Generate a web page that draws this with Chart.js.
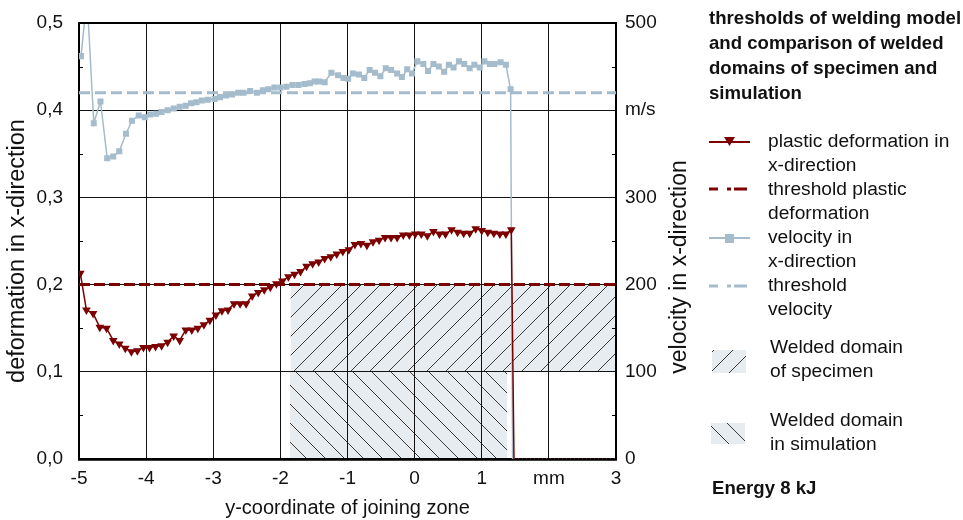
<!DOCTYPE html>
<html>
<head>
<meta charset="utf-8">
<script src="https://cdn.jsdelivr.net/npm/chart.js@4.4.1/dist/chart.umd.min.js"></script>
<style>
  html, body { margin: 0; padding: 0; background: #fff; }
  #wrap { width: 963px; height: 520px; }
</style>
</head>
<body>
<div id="wrap"><canvas id="weldChart" width="963" height="520"></canvas></div>
<script>
// plastic deformation in x-direction (left axis)
const defX = [-4.98, -4.89, -4.79, -4.69, -4.59, -4.49, -4.40, -4.31, -4.22, -4.13, -4.04, -3.95, -3.86, -3.77,
  -3.68, -3.59, -3.50, -3.41, -3.32, -3.23, -3.14, -3.05, -2.96, -2.87, -2.78, -2.69, -2.60, -2.51, -2.42, -2.33,
  -2.24, -2.15, -2.06, -1.97, -1.88, -1.79, -1.70, -1.61, -1.52, -1.43, -1.34, -1.25, -1.16, -1.07, -0.98, -0.89,
  -0.80, -0.71, -0.62, -0.53, -0.44, -0.35, -0.26, -0.17, -0.08, 0.01, 0.10, 0.19, 0.28, 0.37, 0.46, 0.55, 0.64,
  0.73, 0.82, 0.91, 1.00, 1.09, 1.18, 1.27, 1.36, 1.44, 1.48, 3.00];
const defY = [0.213, 0.171, 0.167, 0.151, 0.150, 0.136, 0.132, 0.127, 0.123, 0.124, 0.128, 0.128, 0.129, 0.130,
  0.134, 0.141, 0.136, 0.148, 0.148, 0.150, 0.154, 0.159, 0.165, 0.170, 0.171, 0.178, 0.178, 0.178, 0.187, 0.191,
  0.194, 0.197, 0.201, 0.204, 0.209, 0.212, 0.215, 0.221, 0.224, 0.226, 0.230, 0.232, 0.235, 0.238, 0.240, 0.246,
  0.247, 0.245, 0.249, 0.251, 0.254, 0.254, 0.254, 0.257, 0.257, 0.258, 0.258, 0.256, 0.261, 0.258, 0.258, 0.263, 0.260,
  0.259, 0.259, 0.264, 0.262, 0.260, 0.259, 0.258, 0.258, 0.263, 0, 0];

// velocity in x-direction, m/s (right axis)
const velX = [-4.97, -4.88, -4.78, -4.68, -4.58, -4.49, -4.40, -4.30, -4.21, -4.11, -4.02, -3.94, -3.85, -3.77,
  -3.68, -3.59, -3.50, -3.41, -3.33, -3.25, -3.17, -3.08, -2.98, -2.90, -2.81, -2.72, -2.63, -2.55, -2.45, -2.35,
  -2.26, -2.18, -2.09, -2.00, -1.91, -1.82, -1.73, -1.64, -1.56, -1.49, -1.42, -1.34, -1.24, -1.14, -1.06, -0.99,
  -0.92, -0.83, -0.75, -0.67, -0.59, -0.51, -0.43, -0.35, -0.26, -0.19, -0.11, -0.04, 0.04, 0.13, 0.20, 0.28, 0.36,
  0.44, 0.51, 0.58, 0.66, 0.74, 0.82, 0.89, 0.97, 1.04, 1.12, 1.19, 1.28, 1.36, 1.43, 1.46];
const velY = [462, 530, 385, 410, 345, 347, 353, 373, 388, 394, 392, 395, 396, 398,
  400, 402, 404, 405, 408, 409, 411, 412, 413, 415, 417, 418, 420, 420, 422, 420,
  423, 424, 426, 426, 427, 429, 429, 430, 431, 433, 433, 432, 443, 440, 437, 436,
  442, 441, 437, 446, 443, 439, 448, 446, 442, 438, 447, 442, 456, 453, 445, 453, 450,
  444, 452, 449, 456, 453, 448, 452, 449, 456, 453, 453, 455, 452, 424, 0];

const thresholdDeformation = 0.2;
const thresholdVelocity = 420;
const xRange = [-5, 3];

// welded domains: [x from, x to, lower, upper] on the deformation axis
const specimenDomain = [-1.85, 3, 0.1, 0.2];
const simulationDomain = [-1.86, 1.38, 0, 0.1];

const RED = '#7d0000';
const BLUE = '#a4bccb';
const FILL = '#e6ecf0';

function hatch(dir) {
  const s = 19;
  const c = document.createElement('canvas');
  c.width = s; c.height = s;
  const g = c.getContext('2d');
  g.fillStyle = FILL;
  g.fillRect(0, 0, s, s);
  g.strokeStyle = '#3a3a3a';
  g.lineWidth = 1;
  g.beginPath();
  if (dir > 0) {
    g.moveTo(-2, s + 2); g.lineTo(s + 2, -2);
    g.moveTo(-2, 2); g.lineTo(2, -2);
    g.moveTo(s - 2, s + 2); g.lineTo(s + 2, s - 2);
  } else {
    g.moveTo(-2, -2); g.lineTo(s + 2, s + 2);
    g.moveTo(s - 2, -2); g.lineTo(s + 2, 2);
    g.moveTo(-2, s - 2); g.lineTo(2, s + 2);
  }
  g.stroke();
  return g.createPattern(c, 'repeat');
}
const hatchSpecimen = hatch(1);
const hatchSimulation = hatch(-1);

const FONT = "'Liberation Sans', Arial, sans-serif";
Chart.defaults.font.family = FONT;
Chart.defaults.color = '#111';

const extras = {
  id: 'extras',
  afterDatasetDraw(chart, args) {
    // grid lines lie on top of the hatched domains
    if (args.index !== 4) return;
    chart.scales.x.drawGrid(chart.chartArea);
    chart.scales.y.drawGrid(chart.chartArea);
    ['x', 'y', 'y1'].forEach(id => chart.scales[id].drawBorder());
  },
  afterDraw(chart) {
    const ctx = chart.ctx;
    const { left, right, top, bottom } = chart.chartArea;
    const sy = chart.scales.y;
    ctx.save();
    ctx.strokeStyle = '#000';
    ctx.lineWidth = 2;
    ctx.beginPath(); ctx.moveTo(left - 1, top); ctx.lineTo(right + 1, top); ctx.stroke();

    // small inward ticks halfway between the labels
    ctx.lineWidth = 1;
    sy.ticks.slice(0, -1).forEach((t, i) => {
      const py = Math.round((sy.getPixelForValue(t.value) + sy.getPixelForValue(sy.ticks[i + 1].value)) / 2) + 0.5;
      ctx.beginPath();
      ctx.moveTo(left, py); ctx.lineTo(left + 4, py);
      ctx.moveTo(right, py); ctx.lineTo(right - 4, py);
      ctx.stroke();
    });

    // axis titles
    ctx.fillStyle = '#111';
    ctx.textBaseline = 'middle';
    ctx.textAlign = 'center';
    ctx.font = '20px ' + FONT;
    ctx.fillText('y-coordinate of joining zone', (left + right) / 2, 508);
    ctx.font = '23.5px ' + FONT;
    ctx.save(); ctx.translate(18, 251); ctx.rotate(-Math.PI / 2);
    ctx.fillText('deformation in x-direction', 0, 0); ctx.restore();
    ctx.font = '23px ' + FONT;
    ctx.save(); ctx.translate(680, 267); ctx.rotate(-Math.PI / 2);
    ctx.fillText('velocity in x-direction', 0, 0); ctx.restore();

    // legend
    ctx.textAlign = 'left';
    ctx.font = 'bold 18.6px ' + FONT;
    ['thresholds of welding model', 'and comparison of welded', 'domains of specimen and', 'simulation']
      .forEach((s, i) => ctx.fillText(s, 709, 19 + i * 25));
    ctx.fillText('Energy 8 kJ', 712, 489);

    ctx.font = '19.2px ' + FONT;
    const lx = 768;
    [['plastic deformation in', 'x-direction'], ['threshold plastic', 'deformation'],
     ['velocity in', 'x-direction'], ['threshold', 'velocity']].forEach((p, i) => {
      ctx.fillText(p[0], lx, 142 + i * 48);
      ctx.fillText(p[1], lx, 166 + i * 48);
    });
    ctx.fillText('Welded domain', 770, 348);
    ctx.fillText('of specimen', 770, 372);
    ctx.fillText('Welded domain', 770, 421);
    ctx.fillText('in simulation', 770, 445);

    // legend symbols
    ctx.lineWidth = 2;
    ctx.strokeStyle = RED;
    ctx.beginPath(); ctx.moveTo(709, 142); ctx.lineTo(750, 142); ctx.stroke();
    ctx.fillStyle = RED;
    ctx.beginPath(); ctx.moveTo(724, 137); ctx.lineTo(735, 137); ctx.lineTo(729.5, 146); ctx.closePath(); ctx.fill();

    ctx.lineWidth = 3;
    ctx.setLineDash([9, 9, 4, 3, 13]);
    ctx.beginPath(); ctx.moveTo(709, 189); ctx.lineTo(747, 189); ctx.stroke();
    ctx.strokeStyle = BLUE;
    ctx.beginPath(); ctx.moveTo(709, 286); ctx.lineTo(747, 286); ctx.stroke();
    ctx.setLineDash([]);

    ctx.lineWidth = 2;
    ctx.beginPath(); ctx.moveTo(709, 238); ctx.lineTo(750, 238); ctx.stroke();
    ctx.fillStyle = BLUE;
    ctx.fillRect(725, 234, 9, 9);

    ctx.fillStyle = hatchSpecimen;
    ctx.fillRect(712, 350, 34, 23);
    ctx.fillStyle = hatchSimulation;
    ctx.fillRect(711, 423, 34, 21);
    ctx.restore();
  }
};

const pts = (xs, ys) => xs.map((x, i) => ({ x: x, y: ys[i] }));
const flat = (a, b, v) => [{ x: a, y: v }, { x: b, y: v }];
const onZero = c => c.p0.parsed.y === 0 && c.p1.parsed.y === 0;

new Chart(document.getElementById('weldChart'), {
  type: 'line',
  data: {
    datasets: [
      {
        label: 'plastic deformation in x-direction',
        data: pts(defX, defY),
        yAxisID: 'y',
        borderColor: RED,
        backgroundColor: RED,
        borderWidth: 1.5,
        pointStyle: 'triangle',
        rotation: 180,
        pointRadius: ctx => (ctx.raw && ctx.raw.y === 0 ? 0 : 3.5),
        segment: {
          borderColor: c => (onZero(c) ? 'rgba(190,110,110,0.6)' : undefined),
          borderDash: c => (onZero(c) ? [1, 3] : undefined)
        },
        fill: false
      },
      {
        label: 'threshold plastic deformation',
        data: flat(xRange[0], xRange[1], thresholdDeformation),
        yAxisID: 'y',
        borderColor: RED,
        borderWidth: 3,
        borderDash: [11, 4],
        pointRadius: 0,
        fill: false
      },
      {
        label: 'velocity in x-direction',
        data: pts(velX, velY),
        yAxisID: 'y1',
        borderColor: BLUE,
        backgroundColor: BLUE,
        borderWidth: 1.5,
        pointStyle: 'rect',
        pointRadius: ctx => (ctx.raw && ctx.raw.y === 0 ? 0 : 3.2),
        fill: false
      },
      {
        label: 'threshold velocity',
        data: flat(xRange[0], xRange[1], thresholdVelocity),
        yAxisID: 'y1',
        borderColor: BLUE,
        borderWidth: 3,
        borderDash: [11, 5],
        pointRadius: 0,
        fill: false
      },
      {
        label: 'Welded domain of specimen',
        data: flat(specimenDomain[0], specimenDomain[1], specimenDomain[3]),
        yAxisID: 'y',
        borderWidth: 0,
        pointRadius: 0,
        backgroundColor: hatchSpecimen,
        fill: { value: specimenDomain[2] }
      },
      {
        label: 'Welded domain in simulation',
        data: flat(simulationDomain[0], simulationDomain[1], simulationDomain[3]),
        yAxisID: 'y',
        borderWidth: 0,
        pointRadius: 0,
        backgroundColor: hatchSimulation,
        fill: { value: simulationDomain[2] }
      }
    ]
  },
  options: {
    responsive: false,
    animation: false,
    devicePixelRatio: 1,
    layout: { padding: { top: 23, right: 287, left: 0, bottom: 0 } },
    plugins: { legend: { display: false }, tooltip: { enabled: false } },
    elements: { line: { tension: 0 } },
    scales: {
      x: {
        type: 'linear',
        min: xRange[0], max: xRange[1],
        afterFit: s => { s.height = 61; s.paddingLeft = 0; s.paddingRight = 0; },
        ticks: { stepSize: 1, padding: 8, font: { size: 19 }, color: '#111',
          callback: v => (v === 2 ? 'mm' : String(v)) },
        grid: { color: '#111', lineWidth: 1, drawTicks: false },
        border: { color: '#000', width: 2.5 }
      },
      y: {
        position: 'left',
        min: 0, max: 0.5,
        afterFit: s => { s.width = 79; s.paddingTop = 0; s.paddingBottom = 0; },
        ticks: { stepSize: 0.1, padding: 16, font: { size: 19 }, color: '#111',
          callback: v => v.toFixed(1).replace('.', ',') },
        grid: { color: '#111', lineWidth: 1, drawTicks: false },
        border: { color: '#000', width: 2 }
      },
      y1: {
        position: 'right',
        min: 0, max: 500,
        afterFit: s => { s.width = 60; s.paddingTop = 0; s.paddingBottom = 0; },
        ticks: { stepSize: 100, padding: 9, font: { size: 19 }, color: '#111',
          callback: v => (v === 400 ? 'm/s' : String(v)) },
        grid: { drawOnChartArea: false, drawTicks: false },
        border: { color: '#000', width: 2 }
      }
    }
  },
  plugins: [extras]
});
</script>
</body>
</html>
